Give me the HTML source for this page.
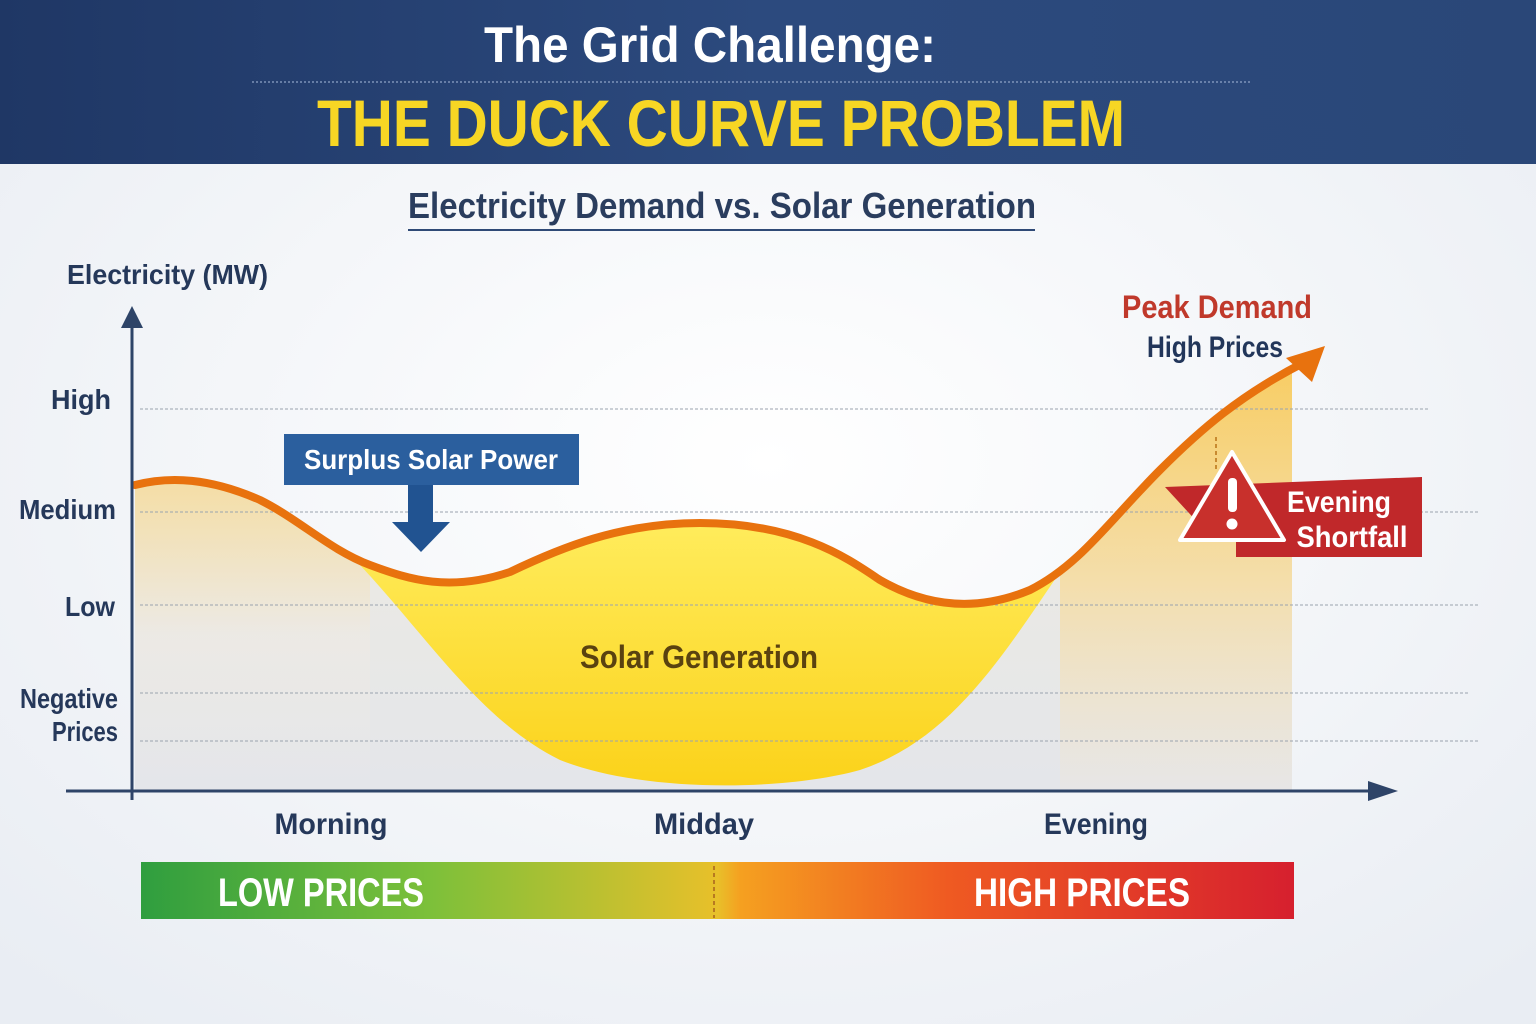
<!DOCTYPE html>
<html><head><meta charset="utf-8"><style>
html,body{margin:0;padding:0;width:1536px;height:1024px;overflow:hidden}
svg text{font-family:"Liberation Sans Narrow","Liberation Sans",sans-serif;font-weight:bold}
</style></head><body>
<svg width="1536" height="1024" viewBox="0 0 1536 1024" xmlns="http://www.w3.org/2000/svg">
<defs>
<linearGradient id="hdr" x1="0" y1="0" x2="1" y2="0"><stop offset="0" stop-color="#1f3765"/><stop offset="0.5" stop-color="#2c4a7e"/><stop offset="1" stop-color="#2a4778"/></linearGradient>
<radialGradient id="bg" cx="0.5" cy="0.45" r="0.7"><stop offset="0" stop-color="#ffffff"/><stop offset="1" stop-color="#e9edf3"/></radialGradient>
<linearGradient id="gray" x1="0" y1="0" x2="0" y2="1"><stop offset="0" stop-color="#f0ecdf"/><stop offset="1" stop-color="#e4e6ea"/></linearGradient>
<linearGradient id="sun" x1="0" y1="0" x2="0" y2="1"><stop offset="0" stop-color="#ffec5c"/><stop offset="1" stop-color="#fbd21a"/></linearGradient>
<linearGradient id="eve" x1="0" y1="0" x2="0" y2="1"><stop offset="0" stop-color="#f9c850"/><stop offset="0.5" stop-color="#f6dca0"/><stop offset="1" stop-color="#eae6e2" stop-opacity="0.6"/></linearGradient>
<linearGradient id="left" x1="0" y1="0" x2="0" y2="1"><stop offset="0" stop-color="#f8d88a"/><stop offset="0.5" stop-color="#eeeae4"/><stop offset="1" stop-color="#e4e6ea"/></linearGradient>
<linearGradient id="price" x1="0" y1="0" x2="1" y2="0"><stop offset="0" stop-color="#2f9e3f"/><stop offset="0.25" stop-color="#7cc03a"/><stop offset="0.5" stop-color="#e8c02a"/><stop offset="0.52" stop-color="#f5a020"/><stop offset="0.7" stop-color="#ef5a22"/><stop offset="1" stop-color="#d6202e"/></linearGradient>
</defs>
<rect width="1536" height="1024" fill="url(#bg)"/>
<rect width="1536" height="164" fill="url(#hdr)"/>
<text x="710" y="62" fill="#fff" font-size="50" text-anchor="middle" textLength="452" lengthAdjust="spacingAndGlyphs">The Grid Challenge:</text>
<line x1="252" y1="82" x2="1252" y2="82" stroke="#8ea3c6" stroke-width="1.2" stroke-dasharray="2 2"/>
<text x="721" y="146" fill="#f7d624" font-size="66" text-anchor="middle" textLength="808" lengthAdjust="spacingAndGlyphs">THE DUCK CURVE PROBLEM</text>
<text x="722" y="218" fill="#2a3d5e" font-size="36" text-anchor="middle" textLength="628" lengthAdjust="spacingAndGlyphs">Electricity Demand vs. Solar Generation</text>
<line x1="408" y1="230" x2="1035" y2="230" stroke="#2f4a76" stroke-width="2"/>
<text x="67" y="284" fill="#25385a" font-size="28" textLength="201" lengthAdjust="spacingAndGlyphs">Electricity (MW)</text>

<path d="M135,485 C170,476 210,478 260,500 C300,520 330,550 370,565 C410,580 450,592 510,572 C560,548 620,523 700,523 C800,523 850,560 880,580 C920,603 970,615 1030,590 C1080,565 1110,520 1160,470 C1200,430 1240,395 1292,370 L1292,790 L135,790 Z" fill="url(#gray)"/>
<path d="M135,485 C170,476 210,478 260,500 C300,520 330,550 370,565 L370,790 L135,790 Z" fill="url(#left)" opacity="0.7"/>
<path d="M1060,572 C1080,555 1110,520 1160,470 C1200,430 1240,395 1292,370 L1292,790 L1060,790 Z" fill="url(#eve)" opacity="0.85"/>
<path d="M360,565 C410,580 450,592 510,572 C560,548 620,523 700,523 C800,523 850,560 880,580 C920,603 970,615 1030,590 L1060,572 C1000,660 950,740 860,770 C780,792 640,792 560,760 C480,720 430,640 360,565 Z" fill="url(#sun)"/>
<g stroke="#9aa3ae" stroke-width="1" stroke-dasharray="3 2">
<line x1="140" y1="409" x2="1430" y2="409"/><line x1="140" y1="512" x2="1480" y2="512"/><line x1="140" y1="605" x2="1480" y2="605"/><line x1="140" y1="693" x2="1470" y2="693"/><line x1="140" y1="741" x2="1480" y2="741"/>
</g>
<path d="M135,485 C170,476 210,478 260,500 C300,520 330,550 370,565 C410,580 450,592 510,572 C560,548 620,523 700,523 C800,523 850,560 880,580 C920,603 970,615 1030,590 C1080,565 1110,520 1160,470 C1200,430 1240,395 1305,362" fill="none" stroke="#e8720e" stroke-width="8" stroke-linecap="round"/>
<polygon points="1325,346 1286,358 1312,382" fill="#e8720e"/>
<line x1="1216" y1="437" x2="1216" y2="470" stroke="#c88a30" stroke-width="2" stroke-dasharray="4 3"/>
<line x1="132" y1="320" x2="132" y2="800" stroke="#2e4468" stroke-width="3"/>
<polygon points="132,306 121,328 143,328" fill="#2e4468"/>
<line x1="66" y1="791" x2="1380" y2="791" stroke="#2e4468" stroke-width="3"/>
<polygon points="1398,791 1368,781 1368,801" fill="#2e4468"/>
<g fill="#25385a" font-size="28">
<text x="51" y="409" textLength="60" lengthAdjust="spacingAndGlyphs">High</text>
<text x="19" y="519" textLength="97" lengthAdjust="spacingAndGlyphs">Medium</text>
<text x="65" y="616" textLength="50" lengthAdjust="spacingAndGlyphs">Low</text>
<text x="20" y="708" textLength="98" lengthAdjust="spacingAndGlyphs">Negative</text>
<text x="52" y="741" textLength="66" lengthAdjust="spacingAndGlyphs">Prices</text>
<text x="331" y="834" text-anchor="middle" font-size="30" textLength="113" lengthAdjust="spacingAndGlyphs">Morning</text>
<text x="704" y="834" text-anchor="middle" font-size="30" textLength="100" lengthAdjust="spacingAndGlyphs">Midday</text>
<text x="1096" y="834" text-anchor="middle" font-size="30" textLength="104" lengthAdjust="spacingAndGlyphs">Evening</text>
</g>
<text x="699" y="668" fill="#5a4210" font-size="32" text-anchor="middle" textLength="238" lengthAdjust="spacingAndGlyphs">Solar Generation</text>
<rect x="284" y="434" width="295" height="51" fill="#2b5f9e"/>
<text x="431" y="469" fill="#fff" font-size="28" text-anchor="middle" textLength="254" lengthAdjust="spacingAndGlyphs">Surplus Solar Power</text>
<rect x="408" y="485" width="25" height="38" fill="#215391"/>
<polygon points="392,522 450,522 421,552" fill="#215391"/>
<polygon points="1165,487 1422,477 1422,557 1236,557 1236,525 1200,525" fill="#c0282a"/>
<path d="M1232,452 L1284,540 L1180,540 Z" fill="#c8302c" stroke="#fff" stroke-width="4" stroke-linejoin="round"/>
<rect x="1228" y="478" width="9" height="34" rx="4" fill="#fff"/>
<circle cx="1232" cy="524" r="5.5" fill="#fff"/>
<text x="1339" y="512" fill="#fff" font-size="30" text-anchor="middle" textLength="104" lengthAdjust="spacingAndGlyphs">Evening</text>
<text x="1352" y="547" fill="#fff" font-size="30" text-anchor="middle" textLength="111" lengthAdjust="spacingAndGlyphs">Shortfall</text>
<text x="1217" y="318" fill="#c0392b" font-size="32" text-anchor="middle" textLength="190" lengthAdjust="spacingAndGlyphs">Peak Demand</text>
<text x="1215" y="357" fill="#22365a" font-size="30" text-anchor="middle" textLength="136" lengthAdjust="spacingAndGlyphs">High Prices</text>
<rect x="141" y="862" width="1153" height="57" fill="url(#price)"/>
<line x1="714" y1="866" x2="714" y2="918" stroke="#b87a20" stroke-width="2" stroke-dasharray="4 3"/>
<text x="321" y="906" fill="#fff" font-size="40" text-anchor="middle" textLength="206" lengthAdjust="spacingAndGlyphs">LOW PRICES</text>
<text x="1082" y="906" fill="#fff" font-size="40" text-anchor="middle" textLength="216" lengthAdjust="spacingAndGlyphs">HIGH PRICES</text>
</svg>
</body></html>
